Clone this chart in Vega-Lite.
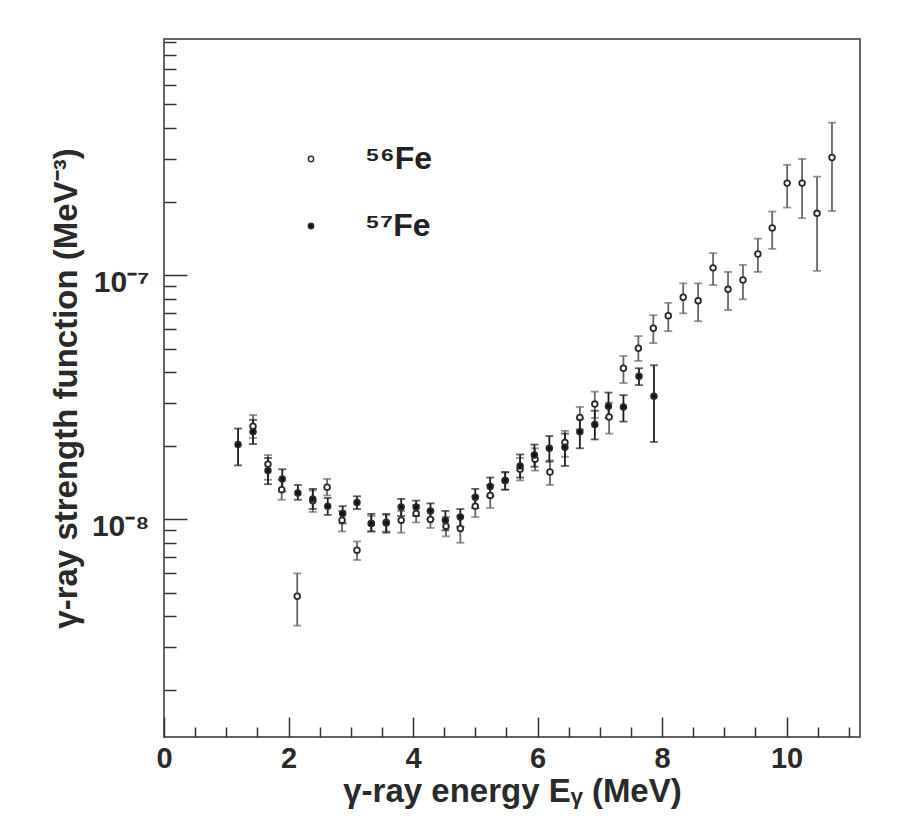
{
  "$schema": "https://vega.github.io/schema/vega-lite/v6.json",
  "width": 696,
  "height": 698,
  "autosize": {"type": "none"},
  "padding": {"left": 164, "top": 39, "right": 49, "bottom": 89},
  "background": "white",
  "config": {
    "font": "Liberation Sans",
    "view": {"stroke": "#333", "strokeWidth": 1.5},
    "axis": {
      "domain": false,
      "grid": false,
      "tickColor": "#333",
      "tickWidth": 1.5,
      "labelFont": "Liberation Sans",
      "labelFontWeight": "bold",
      "labelColor": "#2a2a2a",
      "titleFont": "Liberation Sans",
      "titleFontWeight": "bold",
      "titleColor": "#2a2a2a"
    }
  },
  "datasets": {
    "pts": [
      {"series": "⁵⁶Fe", "E": 1.43, "s": 2.40e-8, "lo": 2.15e-8, "hi": 2.67e-8},
      {"series": "⁵⁶Fe", "E": 1.67, "s": 1.68e-8, "lo": 1.45e-8, "hi": 1.83e-8},
      {"series": "⁵⁶Fe", "E": 1.89, "s": 1.32e-8, "lo": 1.20e-8, "hi": 1.45e-8},
      {"series": "⁵⁶Fe", "E": 2.14, "s": 4.83e-9, "lo": 3.66e-9, "hi": 5.99e-9},
      {"series": "⁵⁶Fe", "E": 2.39, "s": 1.19e-8, "lo": 1.07e-8, "hi": 1.31e-8},
      {"series": "⁵⁶Fe", "E": 2.62, "s": 1.35e-8, "lo": 1.25e-8, "hi": 1.46e-8},
      {"series": "⁵⁶Fe", "E": 2.86, "s": 9.9e-9, "lo": 8.9e-9, "hi": 1.08e-8},
      {"series": "⁵⁶Fe", "E": 3.10, "s": 7.46e-9, "lo": 6.8e-9, "hi": 8.1e-9},
      {"series": "⁵⁶Fe", "E": 3.33, "s": 9.6e-9, "lo": 8.9e-9, "hi": 1.03e-8},
      {"series": "⁵⁶Fe", "E": 3.57, "s": 9.7e-9, "lo": 8.9e-9, "hi": 1.04e-8},
      {"series": "⁵⁶Fe", "E": 3.81, "s": 9.9e-9, "lo": 8.8e-9, "hi": 1.08e-8},
      {"series": "⁵⁶Fe", "E": 4.05, "s": 1.055e-8, "lo": 9.7e-9, "hi": 1.14e-8},
      {"series": "⁵⁶Fe", "E": 4.28, "s": 9.97e-9, "lo": 9.2e-9, "hi": 1.08e-8},
      {"series": "⁵⁶Fe", "E": 4.53, "s": 9.35e-9, "lo": 8.5e-9, "hi": 1.02e-8},
      {"series": "⁵⁶Fe", "E": 4.76, "s": 9.16e-9, "lo": 8.0e-9, "hi": 1.03e-8},
      {"series": "⁵⁶Fe", "E": 5.00, "s": 1.13e-8, "lo": 1.02e-8, "hi": 1.24e-8},
      {"series": "⁵⁶Fe", "E": 5.24, "s": 1.25e-8, "lo": 1.11e-8, "hi": 1.38e-8},
      {"series": "⁵⁶Fe", "E": 5.48, "s": 1.44e-8, "lo": 1.32e-8, "hi": 1.55e-8},
      {"series": "⁵⁶Fe", "E": 5.72, "s": 1.60e-8, "lo": 1.44e-8, "hi": 1.78e-8},
      {"series": "⁵⁶Fe", "E": 5.96, "s": 1.76e-8, "lo": 1.58e-8, "hi": 1.95e-8},
      {"series": "⁵⁶Fe", "E": 6.20, "s": 1.56e-8, "lo": 1.38e-8, "hi": 1.74e-8},
      {"series": "⁵⁶Fe", "E": 6.44, "s": 2.06e-8, "lo": 1.80e-8, "hi": 2.30e-8},
      {"series": "⁵⁶Fe", "E": 6.68, "s": 2.61e-8, "lo": 2.33e-8, "hi": 2.88e-8},
      {"series": "⁵⁶Fe", "E": 6.92, "s": 2.96e-8, "lo": 2.60e-8, "hi": 3.33e-8},
      {"series": "⁵⁶Fe", "E": 7.15, "s": 2.62e-8, "lo": 2.24e-8, "hi": 3.00e-8},
      {"series": "⁵⁶Fe", "E": 7.38, "s": 4.15e-8, "lo": 3.61e-8, "hi": 4.66e-8},
      {"series": "⁵⁶Fe", "E": 7.62, "s": 5.01e-8, "lo": 4.45e-8, "hi": 5.62e-8},
      {"series": "⁵⁶Fe", "E": 7.86, "s": 6.05e-8, "lo": 5.26e-8, "hi": 6.85e-8},
      {"series": "⁵⁶Fe", "E": 8.10, "s": 6.81e-8, "lo": 5.89e-8, "hi": 7.69e-8},
      {"series": "⁵⁶Fe", "E": 8.34, "s": 8.11e-8, "lo": 6.97e-8, "hi": 9.25e-8},
      {"series": "⁵⁶Fe", "E": 8.58, "s": 7.85e-8, "lo": 6.47e-8, "hi": 9.25e-8},
      {"series": "⁵⁶Fe", "E": 8.82, "s": 1.07e-7, "lo": 9.1e-8, "hi": 1.23e-7},
      {"series": "⁵⁶Fe", "E": 9.06, "s": 8.74e-8, "lo": 7.19e-8, "hi": 1.03e-7},
      {"series": "⁵⁶Fe", "E": 9.30, "s": 9.54e-8, "lo": 7.95e-8, "hi": 1.10e-7},
      {"series": "⁵⁶Fe", "E": 9.54, "s": 1.22e-7, "lo": 1.03e-7, "hi": 1.41e-7},
      {"series": "⁵⁶Fe", "E": 9.77, "s": 1.56e-7, "lo": 1.28e-7, "hi": 1.82e-7},
      {"series": "⁵⁶Fe", "E": 10.01, "s": 2.38e-7, "lo": 1.89e-7, "hi": 2.83e-7},
      {"series": "⁵⁶Fe", "E": 10.25, "s": 2.38e-7, "lo": 1.71e-7, "hi": 2.99e-7},
      {"series": "⁵⁶Fe", "E": 10.49, "s": 1.79e-7, "lo": 1.04e-7, "hi": 2.53e-7},
      {"series": "⁵⁶Fe", "E": 10.73, "s": 3.03e-7, "lo": 1.83e-7, "hi": 4.21e-7},
      {"series": "⁵⁷Fe", "E": 1.19, "s": 2.02e-8, "lo": 1.66e-8, "hi": 2.35e-8},
      {"series": "⁵⁷Fe", "E": 1.43, "s": 2.28e-8, "lo": 2.03e-8, "hi": 2.55e-8},
      {"series": "⁵⁷Fe", "E": 1.67, "s": 1.58e-8, "lo": 1.39e-8, "hi": 1.78e-8},
      {"series": "⁵⁷Fe", "E": 1.90, "s": 1.46e-8, "lo": 1.30e-8, "hi": 1.60e-8},
      {"series": "⁵⁷Fe", "E": 2.15, "s": 1.28e-8, "lo": 1.20e-8, "hi": 1.38e-8},
      {"series": "⁵⁷Fe", "E": 2.39, "s": 1.21e-8, "lo": 1.10e-8, "hi": 1.33e-8},
      {"series": "⁵⁷Fe", "E": 2.63, "s": 1.13e-8, "lo": 1.04e-8, "hi": 1.22e-8},
      {"series": "⁵⁷Fe", "E": 2.87, "s": 1.055e-8, "lo": 9.6e-9, "hi": 1.13e-8},
      {"series": "⁵⁷Fe", "E": 3.10, "s": 1.17e-8, "lo": 1.10e-8, "hi": 1.24e-8},
      {"series": "⁵⁷Fe", "E": 3.33, "s": 9.6e-9, "lo": 8.9e-9, "hi": 1.05e-8},
      {"series": "⁵⁷Fe", "E": 3.57, "s": 9.65e-9, "lo": 8.8e-9, "hi": 1.05e-8},
      {"series": "⁵⁷Fe", "E": 3.81, "s": 1.12e-8, "lo": 1.03e-8, "hi": 1.21e-8},
      {"series": "⁵⁷Fe", "E": 4.05, "s": 1.12e-8, "lo": 1.03e-8, "hi": 1.19e-8},
      {"series": "⁵⁷Fe", "E": 4.28, "s": 1.08e-8, "lo": 1.00e-8, "hi": 1.16e-8},
      {"series": "⁵⁷Fe", "E": 4.52, "s": 9.9e-9, "lo": 9.0e-9, "hi": 1.08e-8},
      {"series": "⁵⁷Fe", "E": 4.76, "s": 1.02e-8, "lo": 9.3e-9, "hi": 1.10e-8},
      {"series": "⁵⁷Fe", "E": 5.00, "s": 1.23e-8, "lo": 1.11e-8, "hi": 1.33e-8},
      {"series": "⁵⁷Fe", "E": 5.24, "s": 1.36e-8, "lo": 1.24e-8, "hi": 1.48e-8},
      {"series": "⁵⁷Fe", "E": 5.48, "s": 1.44e-8, "lo": 1.32e-8, "hi": 1.56e-8},
      {"series": "⁵⁷Fe", "E": 5.72, "s": 1.65e-8, "lo": 1.48e-8, "hi": 1.84e-8},
      {"series": "⁵⁷Fe", "E": 5.95, "s": 1.83e-8, "lo": 1.64e-8, "hi": 2.02e-8},
      {"series": "⁵⁷Fe", "E": 6.19, "s": 1.95e-8, "lo": 1.72e-8, "hi": 2.19e-8},
      {"series": "⁵⁷Fe", "E": 6.44, "s": 1.97e-8, "lo": 1.65e-8, "hi": 2.24e-8},
      {"series": "⁵⁷Fe", "E": 6.68, "s": 2.28e-8, "lo": 1.95e-8, "hi": 2.58e-8},
      {"series": "⁵⁷Fe", "E": 6.92, "s": 2.44e-8, "lo": 2.12e-8, "hi": 2.78e-8},
      {"series": "⁵⁷Fe", "E": 7.14, "s": 2.90e-8, "lo": 2.60e-8, "hi": 3.30e-8},
      {"series": "⁵⁷Fe", "E": 7.38, "s": 2.88e-8, "lo": 2.51e-8, "hi": 3.22e-8},
      {"series": "⁵⁷Fe", "E": 7.63, "s": 3.85e-8, "lo": 3.54e-8, "hi": 4.15e-8},
      {"series": "⁵⁷Fe", "E": 7.87, "s": 3.19e-8, "lo": 2.07e-8, "hi": 4.27e-8}
    ]
  },
  "data": {"name": "pts"},
  "encoding": {
    "x": {
      "field": "E",
      "type": "quantitative",
      "scale": {"domain": [0, 11.18], "nice": false, "zero": false},
      "axis": {
        "title": "γ-ray energy Eᵧ (MeV)",
        "titleFontSize": 33,
        "titlePadding": 2,
        "labelFontSize": 29,
        "values": [0, 0.5, 1, 1.5, 2, 2.5, 3, 3.5, 4, 4.5, 5, 5.5, 6, 6.5, 7, 7.5, 8, 8.5, 9, 9.5, 10, 10.5, 11],
        "labelExpr": "datum.value % 2 === 0 ? format(datum.value, 'd') : ''",
        "tickSize": {"condition": {"test": "datum.value % 2 === 0", "value": -20}, "value": -10},
        "labelPadding": {"condition": {"test": "datum.value % 2 === 0", "value": 27}, "value": 17},
        "labelFlush": false,
        "labelOverlap": false
      }
    },
    "y": {
      "field": "lo",
      "type": "quantitative",
      "scale": {"type": "log", "domain": [1.28e-9, 9.27e-7], "nice": false},
      "axis": {
        "title": "γ-ray strength function (MeV⁻³)",
        "titleFontSize": 33,
        "titlePadding": 8,
        "labelFontSize": 30,
        "values": [2e-9, 3e-9, 4e-9, 5e-9, 6e-9, 7e-9, 8e-9, 9e-9, 1e-8, 2e-8, 3e-8, 4e-8, 5e-8, 6e-8, 7e-8, 8e-8, 9e-8, 1e-7, 2e-7, 3e-7, 4e-7, 5e-7, 6e-7, 7e-7, 8e-7, 9e-7],
        "labelExpr": "abs(log(datum.value)/LN10 + 7) < 0.001 ? '10⁻⁷' : (abs(log(datum.value)/LN10 + 8) < 0.001 ? '10⁻⁸' : '')",
        "tickSize": {"condition": {"test": "abs(log(datum.value)/LN10 - round(log(datum.value)/LN10)) < 0.001", "value": -23}, "value": -12},
        "labelPadding": {"condition": {"test": "abs(log(datum.value)/LN10 - round(log(datum.value)/LN10)) < 0.001", "value": 38}, "value": 27},
        "labelOffset": 7,
        "labelOverlap": false,
        "labelFlush": false
      }
    }
  },
  "layer": [
    {
      "transform": [{"filter": "datum.series === '⁵⁶Fe'"}],
      "mark": {"type": "errorbar", "color": "#666666", "ticks": {"size": 8, "thickness": 1.8}, "rule": {"strokeWidth": 1.8}},
      "encoding": {
        "y2": {"field": "hi"}
      }
    },
    {
      "transform": [{"filter": "datum.series === '⁵⁷Fe'"}],
      "mark": {"type": "errorbar", "color": "#1e1e1e", "ticks": {"size": 8, "thickness": 1.8}, "rule": {"strokeWidth": 1.8}},
      "encoding": {
        "y2": {"field": "hi"}
      }
    },
    {
      "mark": {"type": "point", "shape": "circle", "filled": false, "stroke": "#2a2a2a", "strokeWidth": 1.8, "size": 32, "opacity": 1},
      "encoding": {
        "y": {"field": "s", "type": "quantitative"},
        "fill": {
          "field": "series",
          "type": "nominal",
          "scale": {"domain": ["⁵⁶Fe", "⁵⁷Fe"], "range": ["white", "#111111"]},
          "legend": {
            "title": null,
            "orient": "none",
            "legendX": 131,
            "legendY": 104,
            "padding": 0,
            "symbolType": "circle",
            "symbolSize": 28,
            "symbolStrokeColor": "#333",
            "symbolStrokeWidth": 1.5,
            "labelFont": "Liberation Sans",
            "labelFontSize": 32,
            "labelFontWeight": "bold",
            "labelColor": "#222",
            "labelOffset": 38,
            "rowPadding": 35
          }
        }
      }
    }
  ]
}
